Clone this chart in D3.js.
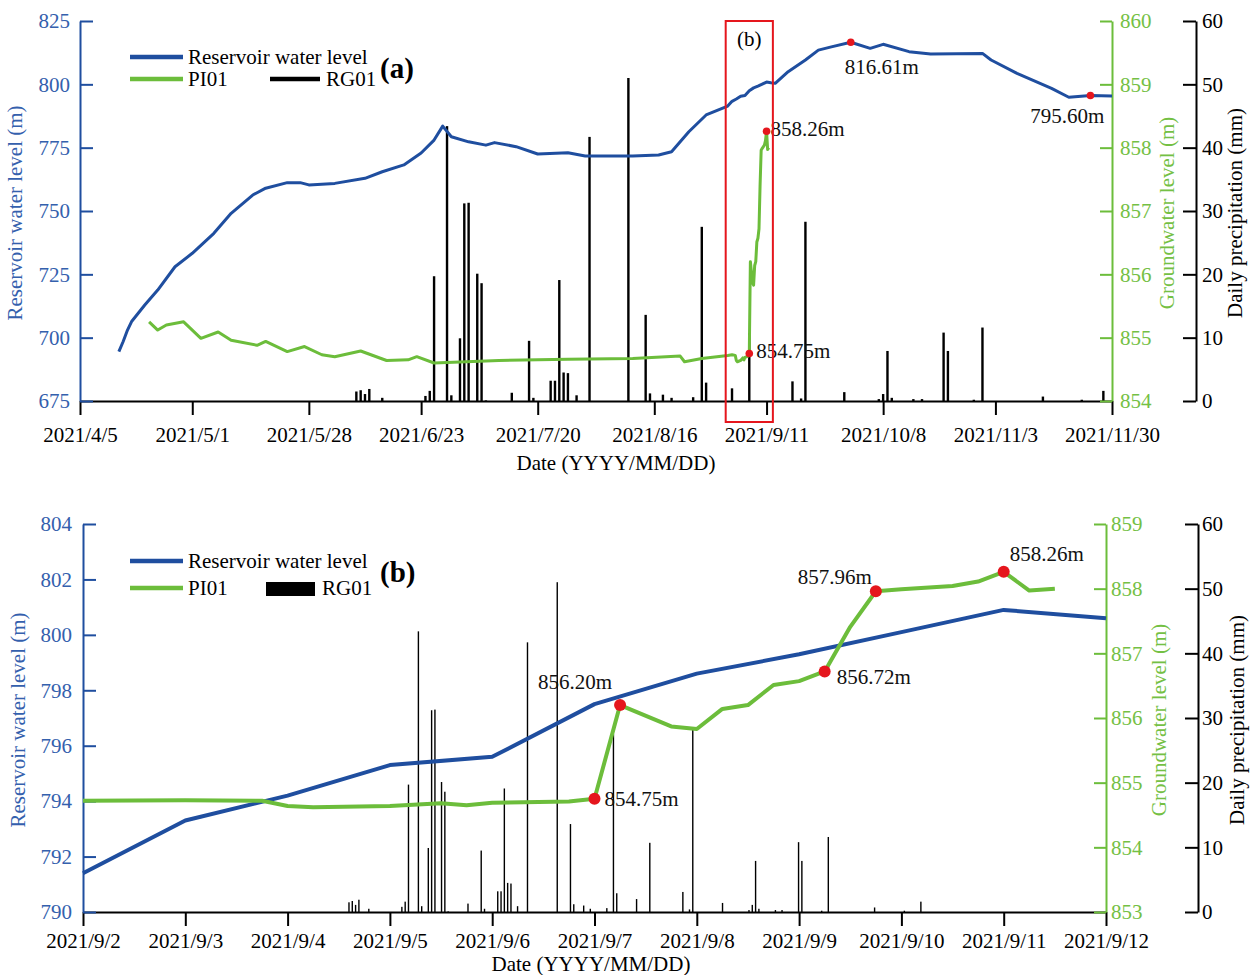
<!DOCTYPE html>
<html>
<head>
<meta charset="utf-8">
<script src="https://cdn.jsdelivr.net/npm/d3@7"></script>
<style>
  body { margin: 0; background: #fff; }
  svg { display: block; font-family: "Liberation Serif", "Times New Roman", serif; }
  svg text { font-family: "Liberation Serif", "Times New Roman", serif; }
</style>
</head>
<body>
<svg id="chart" width="1256" height="975"></svg>
<script>
// Reservoir water level (m)
const resDates = [
  "2021-04-14","2021-04-15","2021-04-16","2021-04-17","2021-04-20","2021-04-23","2021-04-27",
  "2021-05-01","2021-05-06","2021-05-10","2021-05-15","2021-05-18","2021-05-23","2021-05-26",
  "2021-05-28","2021-06-03","2021-06-10","2021-06-14","2021-06-19","2021-06-23","2021-06-26",
  "2021-06-28","2021-06-30","2021-07-04","2021-07-08","2021-07-10","2021-07-15","2021-07-20",
  "2021-07-27","2021-07-31","2021-08-11","2021-08-17","2021-08-20","2021-08-24","2021-08-28",
  "2021-09-02","2021-09-03","2021-09-04","2021-09-05","2021-09-06","2021-09-07","2021-09-08",
  "2021-09-09","2021-09-10","2021-09-11","2021-09-12","2021-09-13","2021-09-16","2021-09-20",
  "2021-09-23","2021-09-26","2021-09-30T12:00","2021-10-05","2021-10-08","2021-10-14","2021-10-19",
  "2021-10-31","2021-11-02","2021-11-08","2021-11-16","2021-11-20","2021-11-25","2021-11-30"
];
const resLevel = [
  694.5, 698.5, 703.0, 706.5, 712.9, 718.8, 728.0,
  733.3, 741.2, 749.1, 756.3, 759.0, 761.2, 761.2,
  760.3, 760.9, 762.9, 765.5, 768.2, 772.9, 778.0,
  783.5, 779.3, 777.3, 776.0, 777.0, 775.4, 772.5,
  773.0, 771.7, 771.7, 772.1, 773.4, 781.3, 787.9,
  791.4, 793.3, 794.2, 795.3, 795.6, 797.5, 798.6,
  799.3, 800.1, 800.9, 800.6, 800.4, 805.0, 809.6,
  813.5, 814.8, 816.61, 814.2, 815.8, 812.9, 812.0,
  812.2, 809.6, 804.3, 798.4, 794.9, 795.60, 795.4
];

// Groundwater level at PI01 (m)
const gwDates = [
  "2021-04-21","2021-04-23","2021-04-25","2021-04-29","2021-05-03","2021-05-07","2021-05-10",
  "2021-05-16","2021-05-18","2021-05-23","2021-05-27","2021-05-31","2021-06-03","2021-06-09",
  "2021-06-15","2021-06-20","2021-06-22","2021-06-26","2021-07-11","2021-07-27","2021-08-11",
  "2021-08-22","2021-08-23","2021-08-27","2021-09-02","2021-09-03","2021-09-03T18:00",
  "2021-09-04","2021-09-04T06:00","2021-09-05","2021-09-05T12:00","2021-09-05T18:00",
  "2021-09-06","2021-09-06T18:00","2021-09-07","2021-09-07T06:00","2021-09-07T18:00",
  "2021-09-08","2021-09-08T06:00","2021-09-08T12:00","2021-09-08T18:00","2021-09-09",
  "2021-09-09T06:00","2021-09-09T12:00","2021-09-09T18:00","2021-09-10","2021-09-10T12:00",
  "2021-09-10T18:00","2021-09-11","2021-09-11T06:00","2021-09-11T12:00"
];
const gwLevel = [
  855.25, 855.12, 855.20, 855.25, 854.99, 855.09, 854.96,
  854.88, 854.94, 854.78, 854.86, 854.73, 854.70, 854.79,
  854.64, 854.65, 854.70, 854.60, 854.64, 854.66, 854.67,
  854.71, 854.62, 854.67, 854.72, 854.73, 854.72,
  854.64, 854.62, 854.64, 854.68, 854.65,
  854.69, 854.71, 854.75, 856.20, 855.87,
  855.83, 856.14, 856.20, 856.51, 856.57,
  856.72, 857.41, 857.96, 857.99, 858.04,
  858.11, 858.26, 857.97, 858.00
];

// Daily precipitation at RG01 (mm)
const rainDates = [
  "2021-06-08","2021-06-09","2021-06-10","2021-06-11","2021-06-14","2021-06-24","2021-06-25",
  "2021-06-26","2021-06-29","2021-06-30","2021-07-02","2021-07-03","2021-07-04","2021-07-06",
  "2021-07-07","2021-07-08","2021-07-14","2021-07-18","2021-07-19","2021-07-23","2021-07-24",
  "2021-07-25","2021-07-26","2021-07-27","2021-07-29","2021-08-01","2021-08-10","2021-08-14",
  "2021-08-15","2021-08-18","2021-08-20","2021-08-25","2021-08-27","2021-08-28","2021-09-03",
  "2021-09-07","2021-09-17","2021-09-19","2021-09-20","2021-09-29","2021-10-07","2021-10-08",
  "2021-10-09","2021-10-10","2021-10-15","2021-10-17","2021-10-22","2021-10-23","2021-10-29",
  "2021-10-31","2021-11-14","2021-11-23","2021-11-28"
];
const rainMm = [
  1.5, 1.7, 1.1, 1.9, 0.5, 0.8, 1.6,
  19.7, 43.4, 0.9, 9.9, 31.2, 31.3, 20.1,
  18.6, 0.1, 1.3, 9.5, 0.5, 3.2, 3.2,
  19.1, 4.5, 4.4, 0.9, 41.7, 51.0, 13.6,
  1.2, 1.0, 0.5, 0.6, 27.5, 2.9, 2.0,
  10.7, 3.1, 0.4, 28.3, 1.4, 0.3, 1.1,
  7.9, 0.5, 0.3, 0.3, 10.8, 7.9, 0.2,
  11.6, 0.7, 0.2, 1.6
];

// Axis tick labels
const xTicksA = ["2021/4/5","2021/5/1","2021/5/28","2021/6/23","2021/7/20","2021/8/16",
                 "2021/9/11","2021/10/8","2021/11/3","2021/11/30"];
const xTicksB = ["2021/9/2","2021/9/3","2021/9/4","2021/9/5","2021/9/6","2021/9/7",
                 "2021/9/8","2021/9/9","2021/9/10","2021/9/11","2021/9/12"];
const resTicksA = [675, 700, 725, 750, 775, 800, 825];
const resTicksB = [790, 792, 794, 796, 798, 800, 802, 804];
const gwTicksA = [854, 855, 856, 857, 858, 859, 860];
const gwTicksB = [853, 854, 855, 856, 857, 858, 859];
const rainTicks = [0, 10, 20, 30, 40, 50, 60];

// Highlighted readings
const noteDatesA = ["2021-09-30T12:00", "2021-11-25", "2021-09-11", "2021-09-07"];
const noteValuesA = [816.61, 795.60, 858.26, 854.75];
const noteSeriesA = ["res", "res", "gw", "gw"];
const noteDatesB = ["2021-09-07", "2021-09-07T06:00", "2021-09-09T06:00", "2021-09-09T18:00", "2021-09-11"];
const noteValuesB = [854.75, 856.20, 856.72, 857.96, 858.26];
const noteSeriesB = ["gw", "gw", "gw", "gw", "gw"];

// Period shown in panel (b); its rainfall sits on a secondary time axis
const periodB = ["2021-09-02", "2021-09-12"];
const rainAxisB = ["2021-03-19T13:00", "2022-01-23"];

const BLUE = "#1f4e9f", BLUE_TXT = "#3460ad";
const GREEN = "#6cbd3b", GREEN_TXT = "#74c044";
const RED = "#e5161d";
const FONT = 21;

const parseTick = d3.timeParse("%Y/%m/%d");
const P = d3.isoParse;
const res = resDates.map((d, i) => ({ date: P(d), v: resLevel[i] }));
const gw = gwDates.map((d, i) => ({ date: P(d), v: gwLevel[i] }));
const rain = rainDates.map((d, i) => ({ date: P(d), mm: rainMm[i] }));

const svg = d3.select("#chart");
const intFmt = d3.format("d");

function styleAxis(g, color, textColor) {
  g.attr("font-family", null).attr("font-size", null);
  g.select(".domain").attr("stroke", color).attr("stroke-width", 2);
  g.selectAll(".tick line").attr("stroke", color).attr("stroke-width", 2);
  g.selectAll(".tick text").attr("fill", textColor).style("font-size", FONT + "px");
}

function drawPanel(p) {
  const g = svg.append("g");
  const x = d3.scaleTime().domain(p.xDomain).range([p.left, p.right]);
  const yR = d3.scaleLinear().domain(p.resDomain).range([p.bottom, p.top]);
  const yG = d3.scaleLinear().domain(p.gwDomain).range([p.bottom, p.top]);
  const yP = d3.scaleLinear().domain([0, 60]).range([p.bottom, p.top]);
  const xRain = p.rainDomain
    ? d3.scaleTime().domain(p.rainDomain).range([p.left, p.right])
    : x;

  // precipitation bars
  g.append("g").selectAll("rect").data(rain).join("rect")
    .attr("x", d => xRain(d.date) - p.barW / 2)
    .attr("width", p.barW)
    .attr("y", d => yP(d.mm))
    .attr("height", d => yP(0) - yP(d.mm))
    .attr("fill", "#000");

  // axes
  const tickDates = p.xTicks.map(parseTick);
  const gx = g.append("g").attr("transform", `translate(0,${p.bottom})`)
    .call(d3.axisBottom(x).tickValues(tickDates).tickFormat((d, i) => p.xTicks[i])
      .tickSize(14).tickSizeOuter(0).tickPadding(p.xPad));
  styleAxis(gx, "#000", "#000");

  const gl = g.append("g").attr("transform", `translate(${p.left},0)`)
    .call(d3.axisLeft(yR).tickValues(p.resTicks).tickFormat(intFmt)
      .tickSize(-13).tickSizeOuter(0).tickPadding(p.leftPad));
  styleAxis(gl, BLUE, BLUE_TXT);

  const gg = g.append("g").attr("transform", `translate(${p.right},0)`)
    .call(d3.axisRight(yG).tickValues(p.gwTicks).tickFormat(intFmt)
      .tickSize(-12).tickSizeOuter(0).tickPadding(p.gwPad));
  styleAxis(gg, GREEN, GREEN_TXT);

  const gp = g.append("g").attr("transform", `translate(${p.rainAxisX},0)`)
    .call(d3.axisRight(yP).tickValues(rainTicks).tickFormat(intFmt)
      .tickSize(-13).tickSizeOuter(0).tickPadding(p.rainPad));
  styleAxis(gp, "#000", "#000");

  // series lines
  const inRange = d => d.date >= p.xDomain[0] && d.date <= p.xDomain[1];
  g.append("path").datum(res.filter(inRange))
    .attr("fill", "none").attr("stroke", BLUE).attr("stroke-width", p.lineW)
    .attr("stroke-linejoin", "round")
    .attr("d", d3.line().x(d => x(d.date)).y(d => yR(d.v)));
  g.append("path").datum(gw.filter(inRange))
    .attr("fill", "none").attr("stroke", GREEN).attr("stroke-width", p.lineW)
    .attr("stroke-linejoin", "round")
    .attr("d", d3.line().x(d => x(d.date)).y(d => yG(d.v)));

  // highlighted readings
  p.notes.forEach((n, i) => {
    const cx = x(P(n.date));
    const cy = n.series === "res" ? yR(n.value) : yG(n.value);
    g.append("circle").attr("cx", cx).attr("cy", cy).attr("r", p.dotR).attr("fill", RED);
    const o = p.noteLayout[i];
    g.append("text").attr("x", cx + o[0]).attr("y", cy + o[1])
      .attr("text-anchor", o[2]).attr("font-size", FONT).attr("fill", "#111")
      .text(n.value.toFixed(2) + "m");
  });

  // axis titles
  const midY = (p.top + p.bottom) / 2 + 2;
  g.append("text").attr("transform", `translate(${p.left - 58},${midY}) rotate(-90)`)
    .attr("text-anchor", "middle").attr("font-size", FONT).attr("fill", BLUE_TXT)
    .text("Reservoir water level (m)");
  g.append("text").attr("transform", `translate(${p.gwTitleX},${midY}) rotate(-90)`)
    .attr("text-anchor", "middle").attr("font-size", FONT).attr("fill", GREEN_TXT)
    .text("Groundwater level (m)");
  g.append("text").attr("transform", `translate(${p.rainAxisX + 46},${midY}) rotate(-90)`)
    .attr("text-anchor", "middle").attr("font-size", FONT).attr("fill", "#000")
    .text("Daily precipitation (mm)");
  g.append("text").attr("x", p.dateTitleX).attr("y", p.bottom + p.dateTitleDy)
    .attr("text-anchor", "middle").attr("font-size", FONT).attr("fill", "#000")
    .text("Date (YYYY/MM/DD)");

  // legend
  const ly1 = p.legendY, ly2 = p.legendY + p.legendGap;
  g.append("line").attr("x1", 130).attr("x2", 183).attr("y1", ly1).attr("y2", ly1)
    .attr("stroke", BLUE).attr("stroke-width", 4.5);
  g.append("text").attr("x", 188).attr("y", ly1 + 7).attr("font-size", FONT).text("Reservoir water level");
  g.append("line").attr("x1", 130).attr("x2", 183).attr("y1", ly2).attr("y2", ly2)
    .attr("stroke", GREEN).attr("stroke-width", 4.5);
  g.append("text").attr("x", 188).attr("y", ly2 + 7).attr("font-size", FONT).text("PI01");
  if (p.rainKey === "line") {
    g.append("line").attr("x1", 270).attr("x2", 320).attr("y1", ly2).attr("y2", ly2)
      .attr("stroke", "#000").attr("stroke-width", 4.5);
    g.append("text").attr("x", 326).attr("y", ly2 + 7).attr("font-size", FONT).text("RG01");
  } else {
    g.append("rect").attr("x", 266).attr("y", ly2 - 6).attr("width", 49).attr("height", 14).attr("fill", "#000");
    g.append("text").attr("x", 322).attr("y", ly2 + 7).attr("font-size", FONT).text("RG01");
  }
  g.append("text").attr("x", 380).attr("y", p.tagY).attr("font-size", 29).attr("font-weight", "bold")
    .text(p.tag);

  return { x };
}

const notesA = noteDatesA.map((d, i) => ({ date: d, value: noteValuesA[i], series: noteSeriesA[i] }));
const notesB = noteDatesB.map((d, i) => ({ date: d, value: noteValuesB[i], series: noteSeriesB[i] }));

const panelA = drawPanel({
  left: 80, right: 1112, top: 21, bottom: 401,
  xDomain: [P("2021-04-05"), P("2021-11-30")],
  resDomain: [675, 825], gwDomain: [854, 860],
  xTicks: xTicksA, resTicks: resTicksA, gwTicks: gwTicksA,
  xPad: 12, leftPad: 10, gwPad: 8, rainPad: 6, rainAxisX: 1196,
  gwTitleX: 1174, dateTitleX: 616, dateTitleDy: 69,
  barW: 2.4, lineW: 3, dotR: 3.8,
  notes: notesA,
  noteLayout: [[-6, 32, "start"], [14, 28, "end"], [4, 5, "start"], [7, 4, "start"]],
  legendY: 57, legendGap: 22, rainKey: "line", tag: "(a)", tagY: 78
});

const panelB = drawPanel({
  left: 83, right: 1106, top: 524, bottom: 912,
  xDomain: [P(periodB[0]), P(periodB[1])],
  resDomain: [790, 804], gwDomain: [853, 859],
  rainDomain: rainAxisB.map(P),
  xTicks: xTicksB, resTicks: resTicksB, gwTicks: gwTicksB,
  xPad: 7, leftPad: 11, gwPad: 5, rainPad: 4, rainAxisX: 1198,
  gwTitleX: 1166, dateTitleX: 591, dateTitleDy: 59,
  barW: 1.4, lineW: 4, dotR: 6,
  notes: notesB,
  noteLayout: [[10, 7, "start"], [-8, -16, "end"], [12, 13, "start"], [-4, -7, "end"], [6, -11, "start"]],
  legendY: 561, legendGap: 27, rainKey: "rect", tag: "(b)", tagY: 582
});

// frame marking the period enlarged in panel (b)
const bx0 = panelA.x(P(periodB[0])) - 2, bx1 = panelA.x(P(periodB[1])) + 2;
svg.append("rect").attr("x", bx0).attr("y", 21).attr("width", bx1 - bx0).attr("height", 401)
  .attr("fill", "none").attr("stroke", RED).attr("stroke-width", 2);
svg.append("text").attr("x", (bx0 + bx1) / 2).attr("y", 46).attr("text-anchor", "middle")
  .attr("font-size", FONT).text("(b)");
</script>
</body>
</html>
